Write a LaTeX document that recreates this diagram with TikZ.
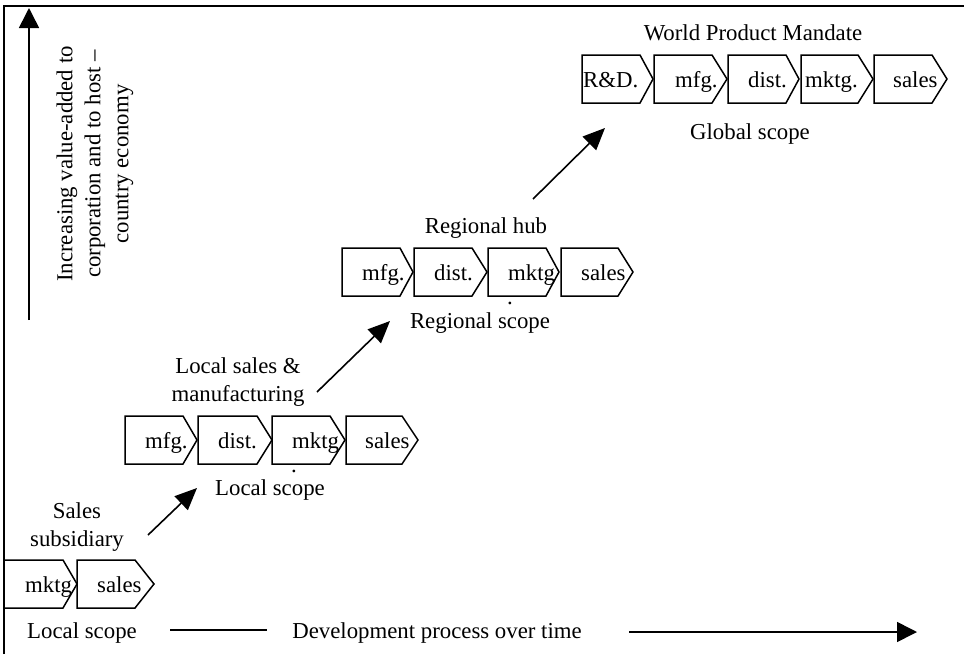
\documentclass[tikz,border=0pt]{standalone}
\usepackage{fontspec}
\setmainfont{Liberation Serif}
\usetikzlibrary{arrows.meta,calc}

% chevron box: #1 name, #2 left x, #3 top y, #4 body width, #5 tip depth, #6 text inset, #7 label
\newcommand\chevbox[7]{%
  \draw[boxline] (#2,#3) -- ++(#4,0) -- ++(#5,24) -- ++(-#5,24) -- ++(-#4,0) -- cycle;
  \node[boxtext] (#1) at ($(#2,#3)+(#6,32)$) {#7};
}

\begin{document}
\begin{tikzpicture}[x=1pt,y=-1pt,
  every node/.style={font=\fontsize{22.8}{28}\selectfont},
  boxline/.style={line width=1.5pt, line join=miter},
  boxtext/.style={anchor=base west, inner sep=0pt},
  lbl/.style={align=center, inner sep=0pt},
  dotmark/.style={anchor=base, inner sep=0pt},
  frameline/.style={line width=2pt},
  axis/.style={line width=1.6pt, -{Triangle[length=20pt,width=20pt]}},
  stagearrow/.style={line width=1.6pt, -{Triangle[length=22pt,width=19pt]}}]

\useasboundingbox (0,0) rectangle (964,654);

% frame
\draw[frameline] (4,654) -- (4,6) -- (964,6);

% vertical axis
\coordinate (vbot) at (29,320);
\coordinate (vtop) at (29,8);
\draw[axis] (vbot) -- (vtop);
\node[lbl, rotate=90] (vlabel) at (95,164)
  {Increasing value-added to\\corporation and to host --\\country economy};

% stage 1: sales subsidiary
\chevbox{s1a}{4}{560}{59}{14}{21}{mktg}
\chevbox{s1b}{77}{560}{58}{19}{20}{sales}
\node[lbl] (s1title) at (77,527) {Sales\\subsidiary};

% stage 2: local sales & manufacturing
\chevbox{s2a}{125}{416}{58}{14}{20}{mfg.}
\chevbox{s2b}{198}{416}{59}{15}{20}{dist.}
\chevbox{s2c}{272}{416}{58}{15}{20}{mktg}
\chevbox{s2d}{346}{416}{56}{16}{19}{sales}
\node[lbl] (s2title) at (238,382) {Local sales \&\\manufacturing};
\node[dotmark] (s2dot) at (294,472) {.};
\node[lbl] (s2scope) at (270,490) {Local scope};

% stage 3: regional hub
\chevbox{s3a}{342}{248}{58}{13}{20}{mfg.}
\chevbox{s3b}{414}{248}{58}{15}{20}{dist.}
\chevbox{s3c}{488}{248}{58}{13}{20}{mktg}
\chevbox{s3d}{561}{248}{57}{15}{20}{sales}
\node[lbl] (s3title) at (486,228) {Regional hub};
\node[dotmark] (s3dot) at (510,304) {.};
\node[lbl] (s3scope) at (480,323) {Regional scope};

% stage 4: world product mandate
\chevbox{s4a}{582}{55}{58}{13}{1}{R\&D.}
\chevbox{s4b}{654}{55}{58}{15}{21}{mfg.}
\chevbox{s4c}{728}{55}{58}{13}{20}{dist.}
\chevbox{s4d}{801}{55}{57}{15}{4}{mktg.}
\chevbox{s4e}{874}{55}{58}{15}{19}{sales}
\node[lbl] (s4title) at (753,33) {World Product Mandate};
\node[lbl] (s4scope) at (750,134) {Global scope};

% transitions between stages
\coordinate (t1s) at (148,535);
\coordinate (t1e) at (197,488);
\coordinate (t2s) at (317,392);
\coordinate (t2e) at (390,321);
\coordinate (t3s) at (533,199);
\coordinate (t3e) at (605,128);
\draw[stagearrow] (t1s) -- (t1e);
\draw[stagearrow] (t2s) -- (t2e);
\draw[stagearrow] (t3s) -- (t3e);

% time axis
\node[lbl] (hlocal) at (82,633) {Local scope};
\node[lbl] (htime) at (437,633) {Development process over time};
\coordinate (hl1) at (170,630);
\coordinate (hl2) at (267,630);
\coordinate (ha1) at (629,632);
\coordinate (ha2) at (917,632);
\draw[line width=1.6pt] (hl1) -- (hl2);
\draw[axis] (ha1) -- (ha2);
\end{tikzpicture}
\end{document}
